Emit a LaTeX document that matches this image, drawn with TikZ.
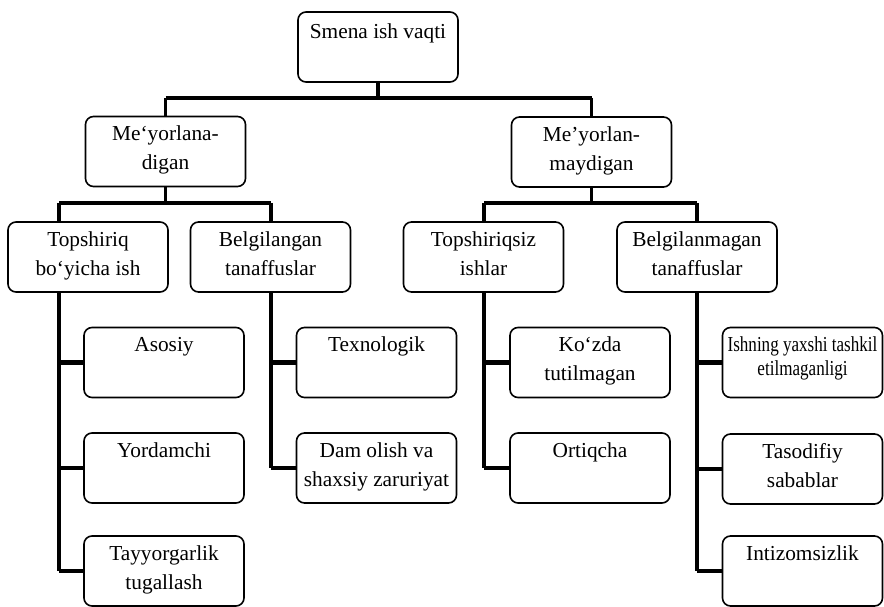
\documentclass[tikz,border=0pt]{standalone}
\usepackage{fontspec}
\setmainfont{Liberation Serif}
\newfontfamily\narrowserif[FakeStretch=0.8]{Liberation Serif}
\begin{document}
\begin{tikzpicture}[x=0.75pt,y=-0.75pt,
  box/.style={draw, rounded corners=6pt, line width=1.2pt, minimum width=120pt,
    minimum height=52.5pt, inner sep=0pt},
  lbl/.style={anchor=north, inner sep=0pt, align=center,
    font=\fontsize{16}{21.75}\selectfont, yshift=-7.5pt},
  small/.style={font=\narrowserif\fontsize{16}{18}\selectfont},
  bus/.style={line width=3.3pt},
  trunk/.style={line width=2.6pt},
]
\useasboundingbox (0,0) rectangle (884,606);

% boxes
\node[box] (top) at (378,47) {};
\node[box] (mA) at (165.5,151.5) {};
\node[box] (mB) at (591.5,152) {};
\node[box] (t1) at (88,257) {};
\node[box] (t2) at (270.5,257) {};
\node[box] (t3) at (483.5,257) {};
\node[box] (t4) at (697,257) {};
\node[box] (a1) at (164,362.5) {};
\node[box] (a2) at (164,468) {};
\node[box] (a3) at (164,571) {};
\node[box] (b1) at (376.5,362.5) {};
\node[box] (b2) at (376.5,468) {};
\node[box] (c1) at (590,362.5) {};
\node[box] (c2) at (590,468) {};
\node[box] (d1) at (802.5,362.5) {};
\node[box] (d2) at (802.5,469) {};
\node[box] (d3) at (802.5,571) {};

% labels
\node[lbl, yshift=-2pt] (topL) at (top.north) {Smena ish vaqti};
\node[lbl] (mAL) at (mA.north) {Me‘yorlana-\\digan};
\node[lbl] (mBL) at (mB.north) {Me’yorlan-\\maydigan};
\node[lbl] (t1L) at (t1.north) {Topshiriq\\bo‘yicha ish};
\node[lbl] (t2L) at (t2.north) {Belgilangan\\tanaffuslar};
\node[lbl] (t3L) at (t3.north) {Topshiriqsiz\\ishlar};
\node[lbl] (t4L) at (t4.north) {Belgilanmagan\\tanaffuslar};
\node[lbl] (a1L) at (a1.north) {Asosiy};
\node[lbl] (a2L) at (a2.north) {Yordamchi};
\node[lbl] (a3L) at (a3.north) {Tayyorgarlik\\tugallash};
\node[lbl] (b1L) at (b1.north) {Texnologik};
\node[lbl] (b2L) at (b2.north) {Dam olish va\\shaxsiy zaruriyat};
\node[lbl] (c1L) at (c1.north) {Ko‘zda\\tutilmagan};
\node[lbl] (c2L) at (c2.north) {Ortiqcha};
\node[lbl, small] (d1L) at (d1.north) {Ishning yaxshi tashkil\\etilmaganligi};
\node[lbl] (d2L) at (d2.north) {Tasodifiy\\sabablar};
\node[lbl] (d3L) at (d3.north) {Intizomsizlik};

% bus levels and trunk positions
\coordinate (bus1) at (0,98);
\coordinate (bus2) at (0,203);
\coordinate (j1) at (59,0);
\coordinate (j2) at (271,0);
\coordinate (j3) at (484,0);
\coordinate (j4) at (697,0);

% first level
\draw[trunk] (top.south) -- (top.south |- bus1);
\draw[bus] (mA.north |- bus1) -- (mB.north |- bus1);
\draw[trunk] (mA.north |- bus1) -- (mA.north);
\draw[trunk] (mB.north |- bus1) -- (mB.north);

% second level, left
\draw[trunk] (mA.south) -- (mA.south |- bus2);
\draw[bus] (j1 |- bus2) -- (j2 |- bus2);
\draw[trunk] (j1 |- bus2) -- (j1 |- t1.north);
\draw[trunk] (j2 |- bus2) -- (j2 |- t2.north);

% second level, right
\draw[trunk] (mB.south) -- (mB.south |- bus2);
\draw[bus] (j3 |- bus2) -- (j4 |- bus2);
\draw[trunk] (j3 |- bus2) -- (j3 |- t3.north);
\draw[trunk] (j4 |- bus2) -- (j4 |- t4.north);

% trunks with side branches
\draw[trunk] (j1 |- t1.south) -- (j1 |- a3.west);
\draw[bus] (j1 |- a1.west) -- (a1.west);
\draw[bus] (j1 |- a2.west) -- (a2.west);
\draw[bus] (j1 |- a3.west) -- (a3.west);

\draw[trunk] (j2 |- t2.south) -- (j2 |- b2.west);
\draw[bus] (j2 |- b1.west) -- (b1.west);
\draw[bus] (j2 |- b2.west) -- (b2.west);

\draw[trunk] (j3 |- t3.south) -- (j3 |- c2.west);
\draw[bus] (j3 |- c1.west) -- (c1.west);
\draw[bus] (j3 |- c2.west) -- (c2.west);

\draw[trunk] (j4 |- t4.south) -- (j4 |- d3.west);
\draw[bus] (j4 |- d1.west) -- (d1.west);
\draw[bus] (j4 |- d2.west) -- (d2.west);
\draw[bus] (j4 |- d3.west) -- (d3.west);
\end{tikzpicture}
\end{document}
